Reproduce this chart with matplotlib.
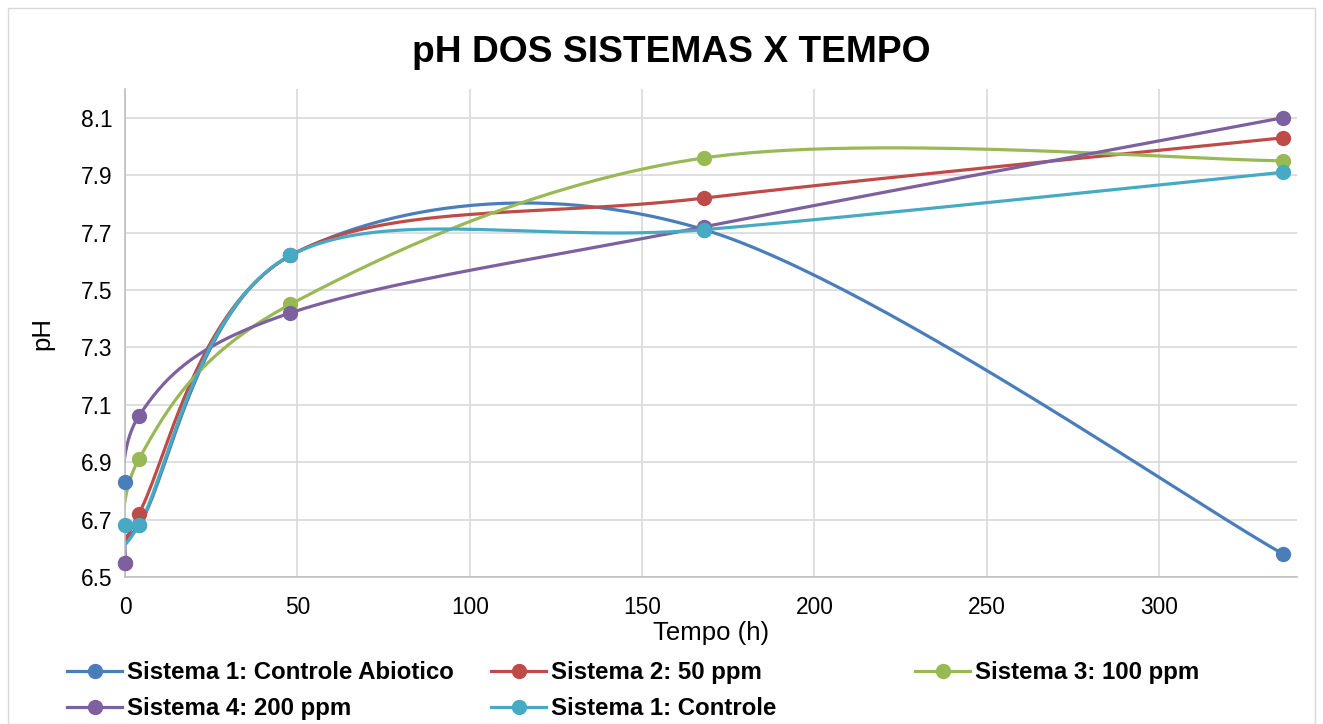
import numpy as np
import matplotlib.pyplot as plt
from matplotlib.lines import Line2D
from matplotlib.patches import Rectangle

plt.rcParams['font.family'] = ['Liberation Sans', 'DejaVu Sans']

tempo = [0, 4, 48, 168, 336]
series_names = [
    'Sistema 1: Controle Abiotico',
    'Sistema 2: 50 ppm',
    'Sistema 3: 100 ppm',
    'Sistema 4: 200 ppm',
    'Sistema 1: Controle',
]
ph_abiotico = [6.83, 6.68, 7.62, 7.71, 6.58]
ph_50 = [6.55, 6.72, 7.62, 7.82, 8.03]
ph_100 = [6.42, 6.91, 7.45, 7.96, 7.95]
ph_200 = [6.55, 7.06, 7.42, 7.72, 8.10]
ph_controle = [6.68, 6.68, 7.62, 7.71, 7.91]
colors = ['#4A7EBB', '#BE4B48', '#98B954', '#7D60A0', '#46AAC5']

y_min, y_max = 6.5, 8.2


def excel_smooth(x, y, n=60):
    # Excel style smoothed line: cubic bezier between points
    p = np.column_stack([x, y]).astype(float)
    sx, sy = 1.0 / 340, 1.0 / 1.7
    p = p * [sx, sy]
    out = []
    m = len(p)
    for i in range(m - 1):
        p0 = p[i - 1] if i > 0 else p[i]
        p1, p2 = p[i], p[i + 1]
        p3 = p[i + 2] if i + 2 < m else p[i + 1]
        c1 = p1 + (p2 - p0) / 6
        c2 = p2 - (p3 - p1) / 6
        t = np.linspace(0, 1, n)[:, None]
        seg = ((1 - t) ** 3 * p1 + 3 * (1 - t) ** 2 * t * c1
               + 3 * (1 - t) * t ** 2 * c2 + t ** 3 * p2)
        out.append(seg if i == 0 else seg[1:])
    c = np.vstack(out) / [sx, sy]
    return c[:, 0], c[:, 1]


fig = plt.figure(figsize=(13.23, 7.24), dpi=100)
fig.patches.append(Rectangle((8 / 1323, 0), 1 - 16 / 1323, 1 - 8 / 724,
                             transform=fig.transFigure, fill=False,
                             edgecolor='#D9D9D9', linewidth=1))
ax = fig.add_axes([125 / 1323, 1 - 577 / 724, (1297 - 125) / 1323, (577 - 89) / 724])

all_series = [ph_abiotico, ph_50, ph_100, ph_200, ph_controle]
for name, vals, col in zip(series_names, all_series, colors):
    xs, ys = excel_smooth(tempo, vals)
    ax.plot(xs, ys, color=col, linewidth=2.3, solid_capstyle='round')
    # markers outside the value axis range are not drawn
    mx = [t for t, v in zip(tempo, vals) if v >= y_min]
    my = [v for v in vals if v >= y_min]
    ax.plot(mx, my, 'o', color=col, markersize=10, linestyle='none',
            clip_on=False, zorder=3)

ax.set_xlim(0, 340)
ax.set_ylim(y_min, y_max)
ax.set_xticks(range(0, 301, 50))
ax.set_yticks(np.arange(6.5, 8.15, 0.2))
ax.set_yticklabels([f'{v:.1f}' for v in np.arange(6.5, 8.15, 0.2)])
ax.grid(True, color='#D9D9D9', linewidth=1.2)
ax.set_axisbelow(True)
for s in ['top', 'right']:
    ax.spines[s].set_visible(False)
for s in ['left', 'bottom']:
    ax.spines[s].set_color('#BFBFBF')
    ax.spines[s].set_linewidth(1.2)
ax.tick_params(axis='x', length=0, labelsize=16.4, pad=14)
ax.tick_params(axis='y', length=0, labelsize=16.4, pad=9)
ax.set_xlabel('Tempo (h)', fontsize=18.5, labelpad=1)
ax.set_ylabel('pH', fontsize=18.5, labelpad=19)

fig.text(0.5075, 1 - 53 / 724, 'pH DOS SISTEMAS X TEMPO', ha='center', va='center',
         fontsize=26.7, fontweight='bold')

handles = [Line2D([], [], color=c, linewidth=2.3, marker='o', markersize=10)
           for c in colors]
# Excel spreads the legend columns evenly
columns = [[0, 3], [1, 4], [2]]
for k, idx in enumerate(columns):
    fig.legend([handles[i] for i in idx], [series_names[i] for i in idx],
               loc='upper left', bbox_to_anchor=((67 + 424 * k) / 1323, 1 - 661 / 724),
               frameon=False, prop={'weight': 'bold', 'size': 17.3},
               handlelength=2.3, handletextpad=0.2, labelspacing=0.55,
               borderaxespad=0, borderpad=0)

fig.savefig('out.png', dpi=100)
